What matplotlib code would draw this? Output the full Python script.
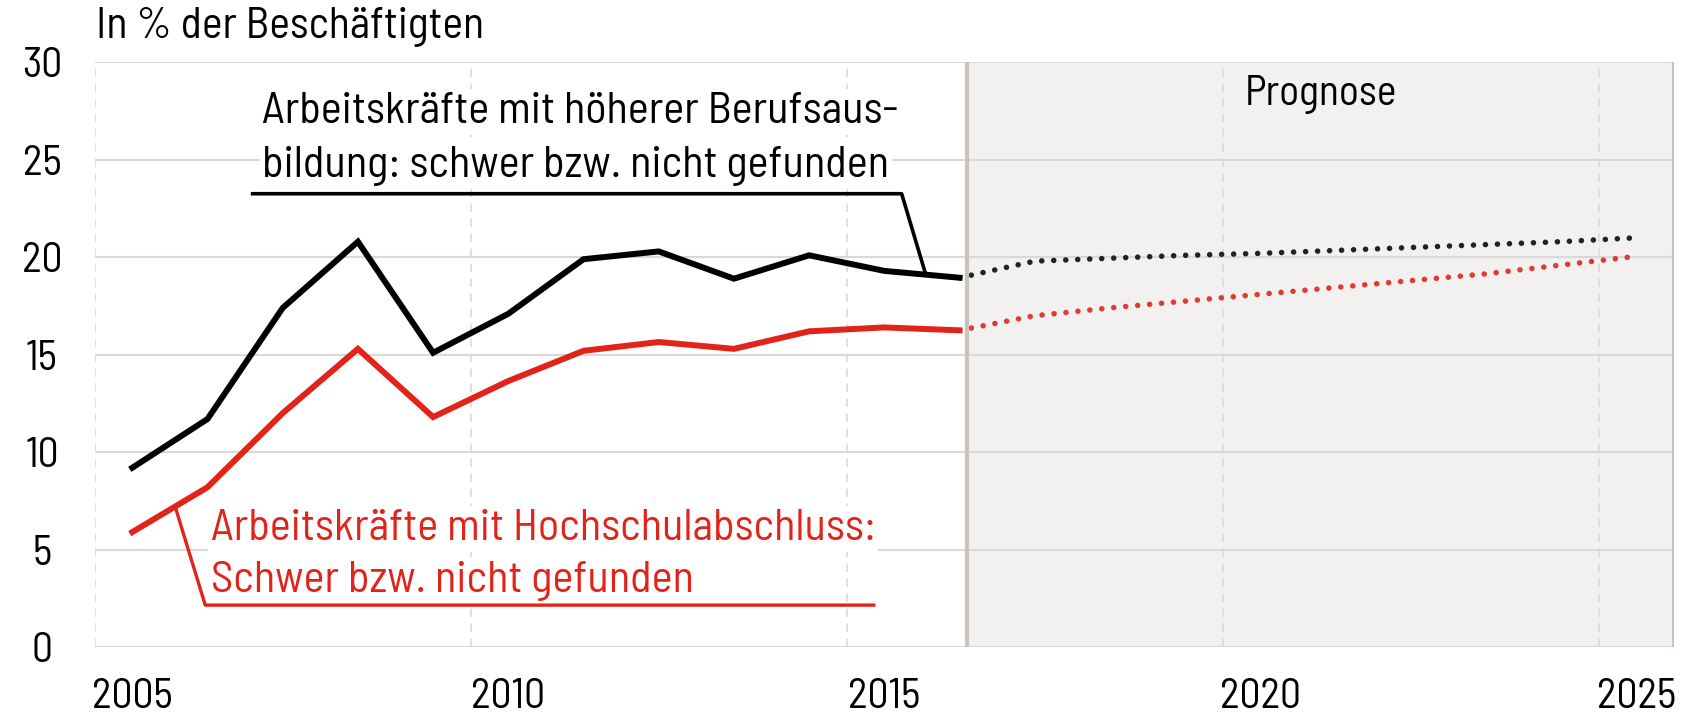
import numpy as np
import matplotlib
matplotlib.use('Agg')
import matplotlib.pyplot as plt

plt.rcParams['font.family'] = ['Barlow Semi Condensed', 'Roboto Condensed', 'DejaVu Sans']

# Daten
jahre = [2005, 2006, 2007, 2008, 2009, 2010, 2011, 2012, 2013, 2014, 2015, 2016]
berufsausbildung = [9.2, 11.7, 17.4, 20.8, 15.1, 17.1, 19.9, 20.3, 18.9, 20.1, 19.3, 18.95]
hochschule = [5.9, 8.2, 12.0, 15.3, 11.8, 13.65, 15.2, 15.65, 15.3, 16.2, 16.4, 16.25]

prog_jahre = [2016, 2017, 2018, 2019, 2020, 2021, 2022, 2023, 2024, 2025]
prog_beruf = [18.95, 19.8, 19.95, 20.1, 20.2, 20.35, 20.5, 20.65, 20.8, 21.0]
prog_hoch = [16.25, 17.0, 17.4, 17.75, 18.1, 18.45, 18.8, 19.15, 19.6, 20.05]

yticks = [0, 5, 10, 15, 20, 25, 30]
xticks = [2005, 2010, 2015, 2020, 2025]

rot = '#e2231a'
grid_c = '#d9d9d9'
rand_c = '#c9c3bb'

fig = plt.figure(figsize=(16.88, 7.17), dpi=100)
ax = fig.add_axes([0.0561, 0.0976, 0.9356, 0.8154])
ax.set_xlim(2004.5, 2025.5)
ax.set_ylim(0, 30)

# Prognosebereich
prog_start = 2016.1
ax.axvspan(prog_start, 2025.5, color='#f2f1ef', zorder=0, lw=0)
ax.axvline(prog_start, color=rand_c, lw=3, zorder=1)
ax.axvline(2025.5, color=rand_c, lw=3, zorder=1)

# Gitter
for y in yticks:
    ax.axhline(y, color=grid_c, lw=1.5, zorder=0.5)
for x in [2004.5, 2009.5, 2014.5, 2019.5, 2024.5]:
    ax.axvline(x, color=grid_c, lw=1.2, ls=(0, (5, 4)), zorder=0.5)

for s in ax.spines.values():
    s.set_visible(False)

ax.set_yticks(yticks)
ax.set_xticks(xticks)
ax.tick_params(length=0, labelsize=30)
ax.tick_params(axis='y', pad=38)
ax.tick_params(axis='x', pad=22)
for lab in ax.get_yticklabels():
    lab.set_horizontalalignment('center')

ax.plot(jahre, berufsausbildung, color='black', lw=4.3, zorder=4, solid_joinstyle='miter')
ax.plot(jahre, hochschule, color=rot, lw=4.3, zorder=4, solid_joinstyle='miter')
# Prognose unter der Trennlinie, damit der Anfang verdeckt wird
ax.plot(prog_jahre, prog_beruf, color='#222222', lw=4, ls=(0, (0.01, 2.15)),
        dash_capstyle='round', zorder=0.8)
ax.plot(prog_jahre, prog_hoch, color='#e03a32', lw=4, ls=(0, (0.01, 2.15)),
        dash_capstyle='round', zorder=0.8)

# Beschriftung schwarz
bbox = dict(facecolor='white', edgecolor='none', pad=2)
ax.text(2006.73, 27.45, 'Arbeitskräfte mit höherer Berufsaus-', fontsize=32,
        va='center', ha='left', bbox=bbox, zorder=3)
ax.text(2006.73, 24.7, 'bildung: schwer bzw. nicht gefunden', fontsize=32,
        va='center', ha='left', bbox=bbox, zorder=3)
ax.plot([2006.6, 2015.23, 2015.54], [23.26, 23.26, 19.25], color='black', lw=2.6, zorder=3)

# Beschriftung rot
ax.text(2006.04, 6.05, 'Arbeitskräfte mit Hochschulabschluss:', fontsize=32, color=rot,
        va='center', ha='left', bbox=bbox, zorder=3)
ax.text(2006.04, 3.4, 'Schwer bzw. nicht gefunden', fontsize=32, color=rot,
        va='center', ha='left', bbox=bbox, zorder=3)
ax.plot([2005.57, 2005.97, 2014.86], [7.2, 2.15, 2.15], color=rot, lw=2.4, zorder=3)

ax.text(2020.8, 28.35, 'Prognose', fontsize=30, ha='center', va='center', zorder=3)

fig.text(0.057, 0.962, 'In % der Beschäftigten', fontsize=31.5, ha='left', va='center')

fig.savefig('out.png', dpi=100)
